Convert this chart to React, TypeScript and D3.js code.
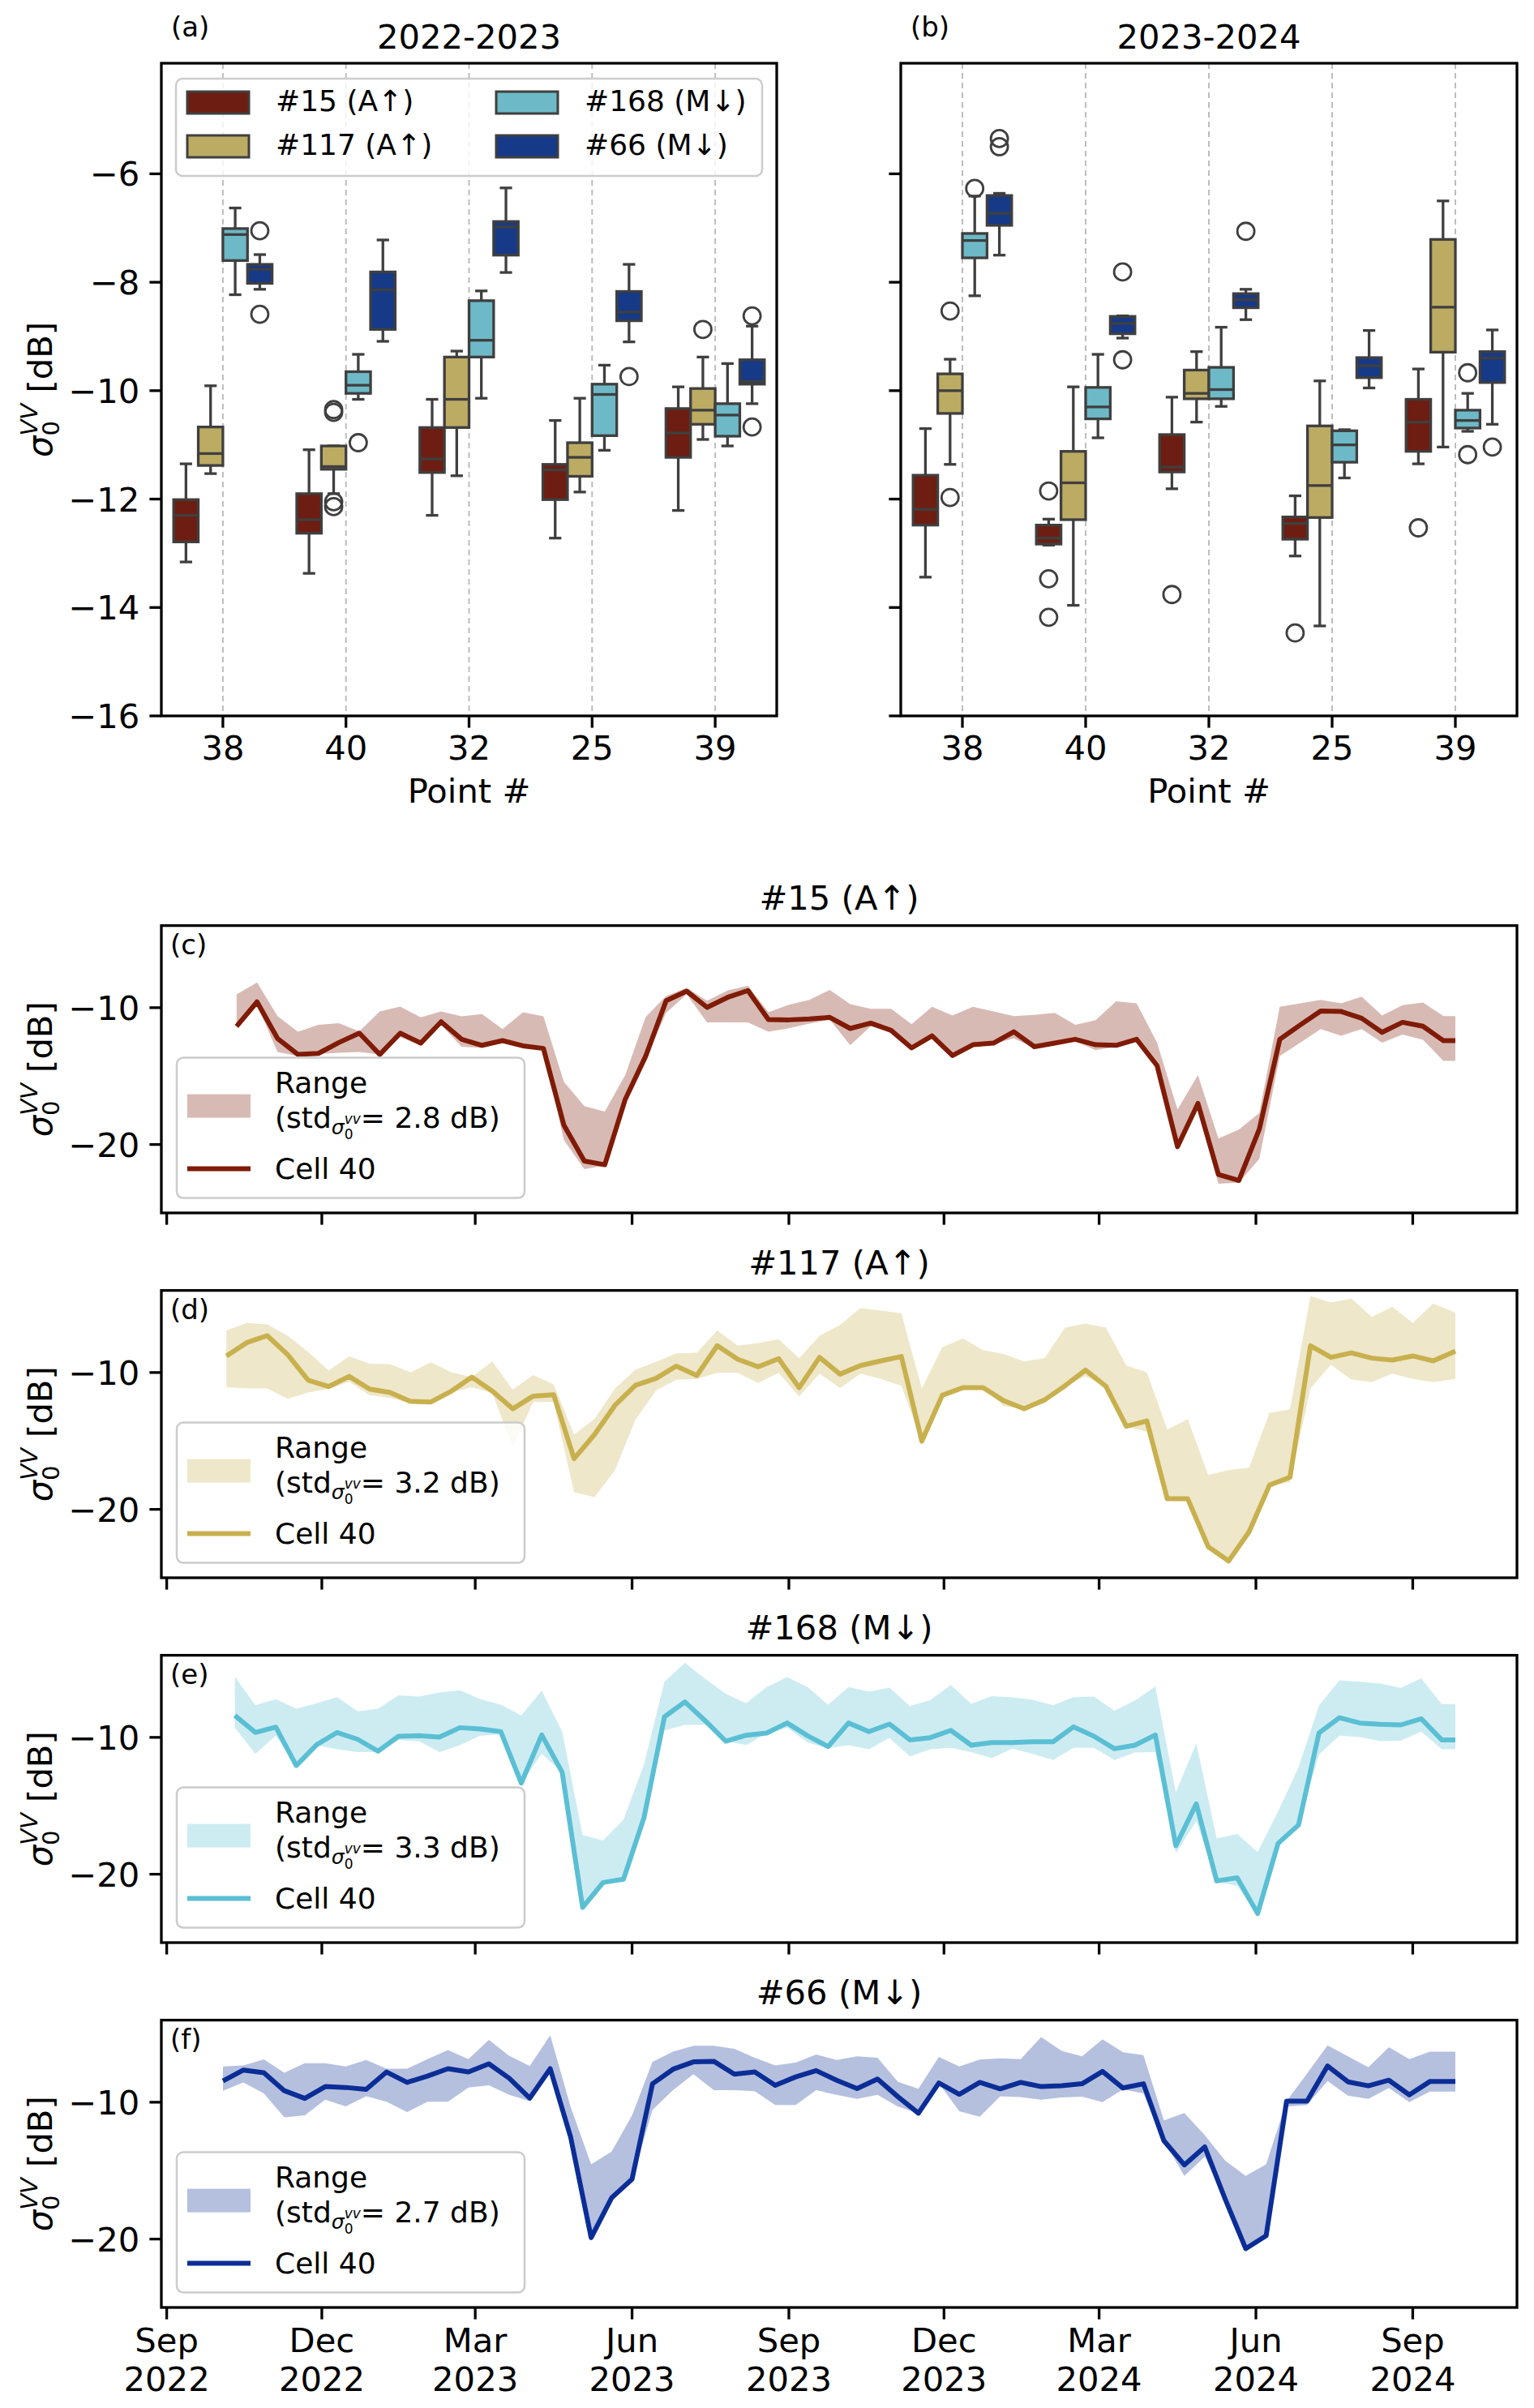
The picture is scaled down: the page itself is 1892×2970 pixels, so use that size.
import * as d3 from "d3";

const FONT = "'DejaVu Sans', sans-serif";
const FS = 41.7;
const LEG_FS = 36;
const LETTER_FS = 34;
const TICK = 14.6;
const AXIS_W = 3.3;
const GRAY = "#3f3f3f";

// ---------- box plot data (a: 2022-2023, b: 2023-2024) ----------
const pointIds = ["38", "40", "32", "25", "39"];
const orbitNames = ["#15 (A\u2191)", "#117 (A\u2191)", "#168 (M\u2193)", "#66 (M\u2193)"];
const boxFills = ["#6e1d12", "#bcab62", "#6db9c7", "#163a88"];
const lineColors = ["#7f1b06", "#c8b04e", "#5bbfd4", "#0b2d96"];
const yearTitles = ["2022-2023", "2023-2024"];
const boxTicks = [-16, -14, -12, -10, -8, -6];

// [lower whisker, q1, median, q3, upper whisker] for each point
const box15a = [
  [-13.16, -12.79, -12.3, -12.01, -11.35],
  [-13.37, -12.63, -12.38, -11.9, -11.09],
  [-12.3, -11.51, -11.26, -10.68, -10.16],
  [-12.72, -12.01, -11.46, -11.36, -10.55],
  [-12.21, -11.23, -10.78, -10.33, -9.93],
];
const box117a = [
  [-11.53, -11.38, -11.16, -10.67, -9.91],
  [-11.9, -11.45, -11.4, -11.02, -11.02],
  [-11.57, -10.68, -10.16, -9.38, -9.27],
  [-11.87, -11.58, -11.23, -10.96, -10.14],
  [-10.9, -10.62, -10.36, -9.96, -9.38],
];
const box168a = [
  [-8.23, -7.6, -7.12, -7.01, -6.63],
  [-10.16, -10.05, -9.9, -9.65, -9.33],
  [-10.14, -9.38, -9.07, -8.34, -8.16],
  [-11.1, -10.83, -10.07, -9.88, -9.53],
  [-11.02, -10.84, -10.45, -10.24, -9.5],
];
const box66a = [
  [-8.13, -8.02, -7.76, -7.67, -7.49],
  [-9.09, -8.87, -8.14, -7.81, -7.22],
  [-7.82, -7.5, -6.98, -6.88, -6.26],
  [-9.1, -8.71, -8.55, -8.17, -7.67],
  [-10.24, -9.88, -9.83, -9.43, -8.81],
];
const out15a = [[], [], [], [], []];
const out117a = [[], [-10.35, -10.4, -12.05, -12.14], [], [], [-8.87]];
const out168a = [[], [-10.96], [], [], []];
const out66a = [[-7.05, -8.59], [], [], [-9.74], [-8.62, -10.67]];

const box15b = [
  [-13.44, -12.48, -12.19, -11.56, -10.7],
  [-12.85, -12.83, -12.72, -12.48, -12.37],
  [-11.81, -11.5, -11.41, -10.81, -10.12],
  [-13.05, -12.74, -12.45, -12.33, -11.94],
  [-11.35, -11.12, -10.58, -10.16, -9.6],
];
const box117b = [
  [-11.36, -10.42, -10.0, -9.69, -9.42],
  [-13.96, -12.38, -11.7, -11.12, -9.93],
  [-10.58, -10.15, -10.05, -9.62, -9.28],
  [-14.34, -12.34, -11.75, -10.65, -9.82],
  [-11.04, -9.29, -8.46, -7.21, -6.5],
];
const box168b = [
  [-8.25, -7.55, -7.23, -7.1, -6.41],
  [-10.87, -10.52, -10.3, -9.94, -9.33],
  [-10.29, -10.15, -9.98, -9.57, -8.83],
  [-11.61, -11.32, -11.0, -10.74, -10.72],
  [-10.75, -10.69, -10.55, -10.36, -10.05],
];
const box66b = [
  [-7.5, -6.95, -6.73, -6.4, -6.36],
  [-9.03, -8.95, -8.76, -8.63, -8.62],
  [-8.69, -8.47, -8.32, -8.21, -8.13],
  [-9.95, -9.76, -9.54, -9.39, -8.89],
  [-10.62, -9.85, -9.4, -9.28, -8.88],
];
const out15b = [[], [-11.85, -13.47, -14.18], [-13.76], [-14.47], [-12.53]];
const out117b = [[-8.53, -11.97], [], [], [], []];
const out168b = [[-6.27], [], [], [], [-9.67, -11.18]];
const out66b = [[-5.35, -5.5], [-7.81, -9.43], [-7.06], [], [-11.04]];

// ---------- time series data (c-f) ----------
const dates15 = ["2022-10-12","2022-10-24","2022-11-05","2022-11-17","2022-11-29","2022-12-11","2022-12-23","2023-01-04","2023-01-16","2023-01-28","2023-02-09","2023-02-21","2023-03-05","2023-03-17","2023-03-29","2023-04-10","2023-04-22","2023-05-04","2023-05-16","2023-05-28","2023-06-09","2023-06-21","2023-07-03","2023-07-15","2023-07-27","2023-08-08","2023-08-20","2023-09-01","2023-09-13","2023-09-25","2023-10-07","2023-10-19","2023-10-31","2023-11-12","2023-11-24","2023-12-06","2023-12-18","2023-12-30","2024-01-11","2024-01-23","2024-02-04","2024-02-16","2024-02-28","2024-03-11","2024-03-23","2024-04-04","2024-04-16","2024-04-28","2024-05-10","2024-05-22","2024-06-03","2024-06-15","2024-06-27","2024-07-09","2024-07-21","2024-08-02","2024-08-14","2024-08-26","2024-09-07","2024-09-19","2024-09-26"];
const cell15 = [-11.36,-9.58,-12.25,-13.42,-13.34,-12.55,-11.86,-13.42,-11.86,-12.59,-11.03,-12.31,-12.75,-12.41,-12.79,-12.98,-18.58,-21.21,-21.48,-16.7,-13.54,-9.49,-8.79,-9.98,-9.25,-8.75,-10.87,-10.89,-10.83,-10.71,-11.52,-11.13,-11.66,-12.94,-12.06,-13.5,-12.71,-12.59,-11.76,-12.85,-12.59,-12.31,-12.71,-12.75,-12.31,-14.23,-20.16,-17.0,-22.19,-22.63,-18.87,-12.31,-11.26,-10.24,-10.28,-10.77,-11.8,-11.07,-11.36,-12.41,-12.41];
const hi15 = [-9.03,-8.16,-10.61,-11.76,-11.26,-11.13,-11.72,-10.28,-9.92,-10.71,-10.28,-10.63,-10.47,-11.56,-10.34,-10.63,-15.42,-17.19,-17.59,-14.92,-10.67,-9.15,-8.56,-9.49,-8.75,-8.4,-10.34,-9.78,-9.43,-8.7,-9.74,-10.08,-10.08,-11.21,-9.94,-10.57,-9.94,-10.28,-10.61,-10.53,-10.38,-11.26,-10.91,-9.53,-9.68,-12.55,-17.45,-14.92,-19.57,-18.91,-17.69,-9.94,-9.68,-9.43,-9.68,-9.19,-10.57,-9.82,-9.62,-10.61,-10.61];
const lo15 = [-11.5,-9.78,-13.24,-13.54,-13.38,-13.3,-13.24,-13.42,-12.15,-12.75,-11.26,-12.85,-12.94,-12.55,-12.94,-13.1,-19.66,-21.8,-21.54,-16.7,-13.74,-10.38,-9.01,-11.07,-11.07,-11.07,-11.76,-11.5,-11.17,-10.87,-12.75,-11.36,-11.76,-12.98,-12.15,-13.54,-12.75,-12.65,-12.25,-12.94,-12.69,-12.45,-13.1,-12.85,-12.35,-14.33,-20.16,-17.09,-22.87,-22.79,-21.05,-13.54,-12.55,-11.56,-12.06,-11.56,-12.55,-11.96,-12.35,-13.89,-13.89];

const dates117 = ["2022-10-06","2022-10-18","2022-10-30","2022-11-11","2022-11-23","2022-12-05","2022-12-17","2022-12-29","2023-01-10","2023-01-22","2023-02-03","2023-02-15","2023-02-27","2023-03-11","2023-03-23","2023-04-04","2023-04-16","2023-04-28","2023-05-10","2023-05-22","2023-06-03","2023-06-15","2023-06-27","2023-07-09","2023-07-21","2023-08-02","2023-08-14","2023-08-26","2023-09-07","2023-09-19","2023-10-01","2023-10-13","2023-10-25","2023-11-06","2023-11-18","2023-11-30","2023-12-12","2023-12-24","2024-01-05","2024-01-17","2024-01-29","2024-02-10","2024-02-22","2024-03-05","2024-03-17","2024-03-29","2024-04-10","2024-04-22","2024-05-04","2024-05-16","2024-05-28","2024-06-09","2024-06-21","2024-07-03","2024-07-15","2024-07-27","2024-08-08","2024-08-20","2024-09-01","2024-09-13","2024-09-26"];
const cell117 = [-8.79,-7.81,-7.31,-8.7,-10.57,-11.03,-10.28,-11.21,-11.46,-12.11,-12.15,-11.36,-10.34,-11.36,-12.65,-11.72,-11.62,-16.3,-14.53,-12.39,-10.93,-10.43,-9.53,-10.22,-8.04,-9.03,-9.58,-8.99,-11.11,-8.89,-10.12,-9.49,-9.15,-8.83,-15.02,-11.66,-11.11,-11.11,-12.06,-12.65,-12.0,-10.97,-9.82,-11.01,-13.93,-13.54,-19.23,-19.23,-22.73,-23.77,-21.64,-18.22,-17.65,-8.04,-8.89,-8.56,-8.95,-9.09,-8.79,-9.15,-8.44];
const hi117 = [-6.92,-6.38,-6.48,-7.31,-8.5,-9.84,-8.83,-9.35,-9.39,-9.98,-9.25,-9.98,-10.34,-9.19,-11.26,-10.18,-10.87,-14.53,-13.38,-11.17,-9.78,-9.23,-8.6,-8.56,-6.92,-8.04,-7.85,-7.57,-8.95,-7.31,-6.52,-5.28,-5.47,-5.67,-11.17,-8.16,-7.51,-8.36,-8.64,-9.19,-8.95,-6.72,-6.42,-6.72,-9.49,-9.98,-14.17,-13.4,-17.49,-17.13,-16.94,-12.94,-12.69,-4.41,-4.88,-4.6,-5.93,-5.2,-6.38,-4.96,-5.63];
const lo117 = [-11.07,-11.17,-11.17,-11.92,-11.46,-11.2,-10.67,-11.66,-11.86,-12.25,-12.25,-11.46,-11.07,-11.5,-15.42,-12.15,-12.15,-18.77,-19.11,-17.13,-13.44,-11.32,-10.53,-10.47,-10.02,-10.02,-10.77,-10.02,-11.76,-10.08,-11.13,-10.08,-10.47,-10.97,-15.02,-11.66,-11.11,-11.11,-12.45,-12.65,-12.25,-10.97,-10.28,-11.01,-13.93,-14.33,-19.23,-19.23,-22.73,-23.77,-21.64,-18.22,-18.04,-11.17,-9.43,-10.51,-10.71,-10.08,-10.47,-10.71,-10.47];

const dates168 = ["2022-10-11","2022-10-23","2022-11-04","2022-11-16","2022-11-28","2022-12-10","2022-12-22","2023-01-03","2023-01-15","2023-01-27","2023-02-08","2023-02-20","2023-03-04","2023-03-16","2023-03-28","2023-04-09","2023-04-21","2023-05-03","2023-05-15","2023-05-27","2023-06-08","2023-06-20","2023-07-02","2023-07-14","2023-07-26","2023-08-07","2023-08-19","2023-08-31","2023-09-12","2023-09-24","2023-10-06","2023-10-18","2023-10-30","2023-11-11","2023-11-23","2023-12-05","2023-12-17","2023-12-29","2024-01-10","2024-01-22","2024-02-03","2024-02-15","2024-02-27","2024-03-10","2024-03-22","2024-04-03","2024-04-15","2024-04-27","2024-05-09","2024-05-21","2024-06-02","2024-06-14","2024-06-26","2024-07-08","2024-07-20","2024-08-01","2024-08-13","2024-08-25","2024-09-06","2024-09-18","2024-09-26"];
const cell168 = [-8.4,-9.64,-9.25,-12.06,-10.53,-9.64,-10.14,-11.01,-9.92,-9.88,-9.98,-9.29,-9.39,-9.58,-13.34,-9.82,-12.55,-22.43,-20.61,-20.36,-15.87,-8.5,-7.41,-8.79,-10.28,-9.84,-9.68,-8.95,-9.88,-10.67,-8.95,-9.58,-9.03,-10.18,-10.02,-9.49,-10.57,-10.38,-10.38,-10.32,-10.32,-9.23,-9.92,-10.83,-10.57,-9.82,-17.92,-14.86,-20.49,-20.26,-22.87,-17.75,-16.4,-9.68,-8.56,-8.95,-9.05,-9.09,-8.64,-10.18,-10.18];
const hi168 = [-5.57,-7.65,-7.21,-7.91,-7.51,-7.06,-8.1,-7.91,-6.92,-7.02,-6.72,-6.56,-7.21,-7.61,-8.4,-6.58,-9.58,-17.13,-17.53,-16.01,-11.96,-5.93,-4.55,-5.73,-6.82,-7.51,-6.32,-5.59,-6.32,-7.61,-6.32,-6.66,-6.36,-7.71,-7.27,-6.17,-7.55,-6.98,-7.08,-7.25,-7.65,-7.06,-7.02,-8.06,-7.31,-6.28,-14.03,-10.42,-17.39,-17.06,-18.38,-15.42,-12.19,-7.67,-5.83,-5.93,-6.07,-6.38,-5.69,-7.57,-7.57];
const lo168 = [-9.29,-11.21,-9.88,-12.06,-10.57,-10.87,-11.07,-11.07,-10.18,-10.28,-11.07,-10.57,-9.88,-9.78,-13.34,-11.21,-12.55,-22.43,-20.65,-20.36,-15.87,-9.49,-9.09,-9.09,-10.28,-10.57,-9.68,-9.29,-10.38,-10.8,-10.57,-10.87,-10.04,-11.4,-10.87,-10.77,-11.07,-11.52,-10.83,-11.21,-11.66,-10.77,-10.77,-11.66,-11.11,-11.07,-18.48,-16.11,-20.57,-20.85,-22.87,-17.75,-16.4,-11.26,-9.88,-9.98,-10.28,-10.24,-9.58,-10.87,-10.87];

const dates66 = ["2022-10-04","2022-10-16","2022-10-28","2022-11-09","2022-11-21","2022-12-03","2022-12-15","2022-12-27","2023-01-08","2023-01-20","2023-02-01","2023-02-13","2023-02-25","2023-03-09","2023-03-21","2023-04-02","2023-04-14","2023-04-26","2023-05-08","2023-05-20","2023-06-01","2023-06-13","2023-06-25","2023-07-07","2023-07-19","2023-07-31","2023-08-12","2023-08-24","2023-09-05","2023-09-17","2023-09-29","2023-10-11","2023-10-23","2023-11-04","2023-11-16","2023-11-28","2023-12-10","2023-12-22","2024-01-03","2024-01-15","2024-01-27","2024-02-08","2024-02-20","2024-03-03","2024-03-15","2024-03-27","2024-04-08","2024-04-20","2024-05-02","2024-05-14","2024-05-26","2024-06-07","2024-06-19","2024-07-01","2024-07-13","2024-07-25","2024-08-06","2024-08-18","2024-08-30","2024-09-11","2024-09-26"];
const cell66 = [-8.45,-7.65,-7.85,-9.16,-9.72,-8.86,-8.92,-9.06,-7.79,-8.55,-8.09,-7.55,-7.79,-7.19,-8.25,-9.7,-7.55,-12.57,-19.9,-16.99,-15.62,-8.65,-7.59,-7.05,-7.01,-7.95,-7.79,-8.76,-8.15,-7.69,-8.39,-9.0,-8.31,-9.6,-10.8,-8.59,-9.42,-8.55,-9.02,-8.55,-8.86,-8.8,-8.65,-7.75,-8.96,-8.65,-12.81,-14.58,-13.27,-17.09,-20.7,-19.76,-9.92,-9.92,-7.35,-8.51,-8.8,-8.39,-9.46,-8.49,-8.49];
const hi66 = [-7.39,-7.31,-6.87,-7.85,-7.15,-7.15,-7.39,-6.91,-7.55,-7.55,-6.85,-6.18,-6.85,-5.44,-6.61,-7.35,-5.1,-10.36,-14.54,-13.61,-10.96,-7.05,-6.31,-5.88,-5.88,-6.1,-6.75,-7.31,-7.11,-6.51,-6.91,-6.65,-6.75,-8.51,-9.02,-6.69,-7.39,-6.89,-6.79,-6.85,-5.24,-6.24,-6.65,-5.4,-6.35,-6.55,-11.33,-10.8,-12.41,-14.28,-15.38,-14.54,-9.92,-7.91,-5.84,-6.65,-7.45,-5.98,-6.85,-6.31,-6.31];
const lo66 = [-9.16,-8.55,-9.36,-11.1,-10.96,-9.82,-10.3,-9.56,-9.96,-10.72,-9.96,-9.96,-8.92,-8.76,-9.46,-9.92,-7.65,-12.57,-19.9,-16.99,-15.62,-10.56,-9.12,-7.95,-9.12,-9.12,-9.2,-10.2,-10.2,-9.12,-9.46,-9.76,-9.46,-10.32,-10.8,-8.61,-10.66,-11.06,-9.56,-9.62,-9.82,-9.66,-9.6,-10.0,-9.06,-9.36,-12.81,-15.38,-13.98,-17.09,-20.8,-19.76,-10.32,-10.2,-8.45,-9.52,-9.76,-8.96,-10.0,-9.22,-9.22];

const stdValues = ["2.8", "3.2", "3.3", "2.7"];
const panelLetters = ["(c)", "(d)", "(e)", "(f)"];
const timeTicks = ["2022-09-01","2022-12-01","2023-03-01","2023-06-01","2023-09-01","2023-12-01","2024-03-01","2024-06-01","2024-09-01"];
const seriesYTicks = [-10, -20];

// ---------- layout ----------
const BOX_TOP = 78;
const BOX_BOTTOM = 883;
const BOX_LEFT = [199, 1111];
const BOX_RIGHT = [958, 1871];
const TS_LEFT = 199;
const TS_RIGHT = 1871;
const TS_TOPS = [1141.6, 1591.6, 2041.6, 2491.6];
const TS_H = 354.4;

const parse = d3.timeParse("%Y-%m-%d");
const fmtMinus = (v: number) => (v < 0 ? "\u2212" : "") + Math.abs(v);

function SigmaLabel({ x, y }: { x: number; y: number }) {
  return (
    <text
      transform={`translate(${x},${y}) rotate(-90)`}
      textAnchor="middle"
      fontSize={FS}
      fontFamily={FONT}
      style={{ whiteSpace: "pre" }}
    >
      <tspan fontStyle="italic">σ</tspan>
      <tspan fontSize={29} dy={9}>0</tspan>
      <tspan fontSize={29} fontStyle="italic" dx={-18.4} dy={-27}>VV</tspan>
      <tspan dy={18}>{" [dB]"}</tspan>
    </text>
  );
}

type Stats = number[][];

function BoxPanel({
  idx,
  stats,
  outliers,
}: {
  idx: number;
  stats: Stats[];
  outliers: number[][][];
}) {
  const left = BOX_LEFT[idx];
  const right = BOX_RIGHT[idx];
  const x = d3.scaleBand<string>().domain(pointIds).range([left, right]);
  const bw = x.bandwidth();
  const hue = d3.scaleBand<string>().domain(orbitNames).range([0.1 * bw, 0.9 * bw]);
  const hw = hue.bandwidth();
  const y = d3.scaleLinear().domain([-16, -3.96]).range([BOX_BOTTOM, BOX_TOP]);
  const cx = (p: string) => (x(p) as number) + bw / 2;

  return (
    <g fontFamily={FONT}>
      {/* dashed separators */}
      {pointIds.map((p) => (
        <line
          key={"g" + p}
          x1={cx(p)}
          x2={cx(p)}
          y1={BOX_TOP}
          y2={BOX_BOTTOM}
          stroke="#bdbdbd"
          strokeWidth={2}
          strokeDasharray="7,5"
        />
      ))}

      {orbitNames.map((name, h) =>
        pointIds.map((p, i) => {
          const [lo, q1, med, q3, hi] = stats[h][i];
          const x0 = (x(p) as number) + (hue(name) as number);
          const xc = x0 + hw / 2;
          const cap = hw * 0.25;
          return (
            <g key={name + p} stroke={GRAY} strokeWidth={3.3}>
              <line x1={xc} x2={xc} y1={y(q3)} y2={y(hi)} />
              <line x1={xc} x2={xc} y1={y(q1)} y2={y(lo)} />
              <line x1={xc - cap} x2={xc + cap} y1={y(hi)} y2={y(hi)} />
              <line x1={xc - cap} x2={xc + cap} y1={y(lo)} y2={y(lo)} />
              <rect
                x={x0}
                y={y(q3)}
                width={hw}
                height={y(q1) - y(q3)}
                fill={boxFills[h]}
              />
              <line x1={x0} x2={x0 + hw} y1={y(med)} y2={y(med)} />
              {outliers[h][i].map((o, k) => (
                <circle
                  key={k}
                  cx={xc}
                  cy={y(o)}
                  r={10.5}
                  fill="none"
                  strokeWidth={2.8}
                />
              ))}
            </g>
          );
        })
      )}

      {/* axes */}
      <rect
        x={left}
        y={BOX_TOP}
        width={right - left}
        height={BOX_BOTTOM - BOX_TOP}
        fill="none"
        stroke="#000"
        strokeWidth={AXIS_W}
      />
      {boxTicks.map((t) => (
        <g key={"y" + t}>
          <line x1={left - TICK} x2={left} y1={y(t)} y2={y(t)} stroke="#000" strokeWidth={AXIS_W} />
          {idx === 0 && (
            <text x={left - TICK - 12} y={y(t)} dy="0.36em" textAnchor="end" fontSize={FS}>
              {fmtMinus(t)}
            </text>
          )}
        </g>
      ))}
      {pointIds.map((p) => (
        <g key={"x" + p}>
          <line x1={cx(p)} x2={cx(p)} y1={BOX_BOTTOM} y2={BOX_BOTTOM + TICK} stroke="#000" strokeWidth={AXIS_W} />
          <text x={cx(p)} y={937} textAnchor="middle" fontSize={FS}>
            {p}
          </text>
        </g>
      ))}
      <text x={(left + right) / 2} y={990} textAnchor="middle" fontSize={FS}>
        Point #
      </text>
      <text x={(left + right) / 2} y={60} textAnchor="middle" fontSize={FS}>
        {yearTitles[idx]}
      </text>
      <text x={left + 12} y={45} fontSize={LETTER_FS}>
        {idx === 0 ? "(a)" : "(b)"}
      </text>
      {idx === 0 && <SigmaLabel x={64} y={(BOX_TOP + BOX_BOTTOM) / 2} />}

      {idx === 0 && (
        <g>
          <rect x={217} y={97} width={723} height={120} rx={8} fill="#fff" fillOpacity={0.8} stroke="#cccccc" strokeWidth={2.5} />
          {orbitNames.map((name, h) => {
            const col = Math.floor(h / 2);
            const row = h % 2;
            const px = col === 0 ? 231 : 612;
            const py = row === 0 ? 113 : 167;
            return (
              <g key={"leg" + name}>
                <rect x={px} y={py} width={76} height={27} fill={boxFills[h]} stroke={GRAY} strokeWidth={3} />
                <text x={px + 109} y={py + 24} fontSize={LEG_FS}>
                  {name}
                </text>
              </g>
            );
          })}
        </g>
      )}
    </g>
  );
}

type Row = { date: Date; v: number; lo: number; hi: number };

function SeriesPanel({
  idx,
  dates,
  cell,
  lo,
  hi,
  xDomain,
}: {
  idx: number;
  dates: string[];
  cell: number[];
  lo: number[];
  hi: number[];
  xDomain: [Date, Date];
}) {
  const top = TS_TOPS[idx];
  const bottom = top + TS_H;
  const color = lineColors[idx];
  const x = d3.scaleTime().domain(xDomain).range([TS_LEFT, TS_RIGHT]);
  const y = d3.scaleLinear().domain([-25, -4]).range([bottom, top]);
  const rows: Row[] = dates.map((d, i) => ({
    date: parse(d) as Date,
    v: cell[i],
    lo: lo[i],
    hi: hi[i],
  }));
  const area = d3
    .area<Row>()
    .x((d) => x(d.date))
    .y0((d) => y(d.lo))
    .y1((d) => y(d.hi));
  const line = d3
    .line<Row>()
    .x((d) => x(d.date))
    .y((d) => y(d.v));
  const lx = TS_LEFT + 19;
  const ly = top + 163;

  return (
    <g fontFamily={FONT}>
      <path d={area(rows) as string} fill={color} fillOpacity={0.3} stroke="none" />
      <path
        d={line(rows) as string}
        fill="none"
        stroke={color}
        strokeWidth={6}
        strokeLinejoin="round"
      />
      <rect x={TS_LEFT} y={top} width={TS_RIGHT - TS_LEFT} height={TS_H} fill="none" stroke="#000" strokeWidth={AXIS_W} />

      {seriesYTicks.map((t) => (
        <g key={"y" + t}>
          <line x1={TS_LEFT - TICK} x2={TS_LEFT} y1={y(t)} y2={y(t)} stroke="#000" strokeWidth={AXIS_W} />
          <text x={TS_LEFT - TICK - 12} y={y(t)} dy="0.36em" textAnchor="end" fontSize={FS}>
            {fmtMinus(t)}
          </text>
        </g>
      ))}
      {timeTicks.map((t) => {
        const d = parse(t) as Date;
        const tx = x(d);
        return (
          <g key={"x" + t}>
            <line x1={tx} x2={tx} y1={bottom} y2={bottom + TICK} stroke="#000" strokeWidth={AXIS_W} />
            {idx === 3 && (
              <text textAnchor="middle" fontSize={FS}>
                <tspan x={tx} y={2901}>{d3.timeFormat("%b")(d)}</tspan>
                <tspan x={tx} y={2949}>{d3.timeFormat("%Y")(d)}</tspan>
              </text>
            )}
          </g>
        );
      })}

      <text x={(TS_LEFT + TS_RIGHT) / 2} y={top - 20} textAnchor="middle" fontSize={FS}>
        {orbitNames[idx]}
      </text>
      <text x={TS_LEFT + 11} y={top + 35} fontSize={LETTER_FS}>
        {panelLetters[idx]}
      </text>
      <SigmaLabel x={64} y={top + TS_H / 2} />

      {/* legend */}
      <rect x={lx} y={ly} width={429} height={173} rx={8} fill="#fff" fillOpacity={0.8} stroke="#cccccc" strokeWidth={2.5} />
      <rect x={231} y={top + 208} width={78} height={29} fill={color} fillOpacity={0.3} />
      <text x={339} y={top + 206} fontSize={LEG_FS}>
        Range
      </text>
      <text x={339} y={top + 249} fontSize={LEG_FS} style={{ whiteSpace: "pre" }}>
        <tspan>(std</tspan>
        <tspan fontSize={25} fontStyle="italic" dy={8}>σ</tspan>
        <tspan fontSize={17} dy={6}>0</tspan>
        <tspan fontSize={17} fontStyle="italic" dx={-10.8} dy={-19}>vv</tspan>
        <tspan dy={5}>{`= ${stdValues[idx]} dB)`}</tspan>
      </text>
      <line x1={231} x2={309} y1={top + 300} y2={top + 300} stroke={color} strokeWidth={6} />
      <text x={339} y={top + 312} fontSize={LEG_FS}>
        Cell 40
      </text>
    </g>
  );
}

export default function App() {
  const allDates = [...dates15, ...dates117, ...dates168, ...dates66].map(
    (d) => parse(d) as Date
  );
  const [d0, d1] = d3.extent(allDates) as [Date, Date];
  const pad = (d1.getTime() - d0.getTime()) * 0.05;
  const xDomain: [Date, Date] = [
    new Date(d0.getTime() - pad),
    new Date(d1.getTime() + pad),
  ];

  return (
    <div style={{ position: "absolute", left: 0, top: 0 }}>
      <svg width={1892} height={2970} style={{ display: "block", background: "#fff" }}>
        <BoxPanel
          idx={0}
          stats={[box15a, box117a, box168a, box66a]}
          outliers={[out15a, out117a, out168a, out66a]}
        />
        <BoxPanel
          idx={1}
          stats={[box15b, box117b, box168b, box66b]}
          outliers={[out15b, out117b, out168b, out66b]}
        />
        <SeriesPanel idx={0} dates={dates15} cell={cell15} lo={lo15} hi={hi15} xDomain={xDomain} />
        <SeriesPanel idx={1} dates={dates117} cell={cell117} lo={lo117} hi={hi117} xDomain={xDomain} />
        <SeriesPanel idx={2} dates={dates168} cell={cell168} lo={lo168} hi={hi168} xDomain={xDomain} />
        <SeriesPanel idx={3} dates={dates66} cell={cell66} lo={lo66} hi={hi66} xDomain={xDomain} />
      </svg>
    </div>
  );
}
